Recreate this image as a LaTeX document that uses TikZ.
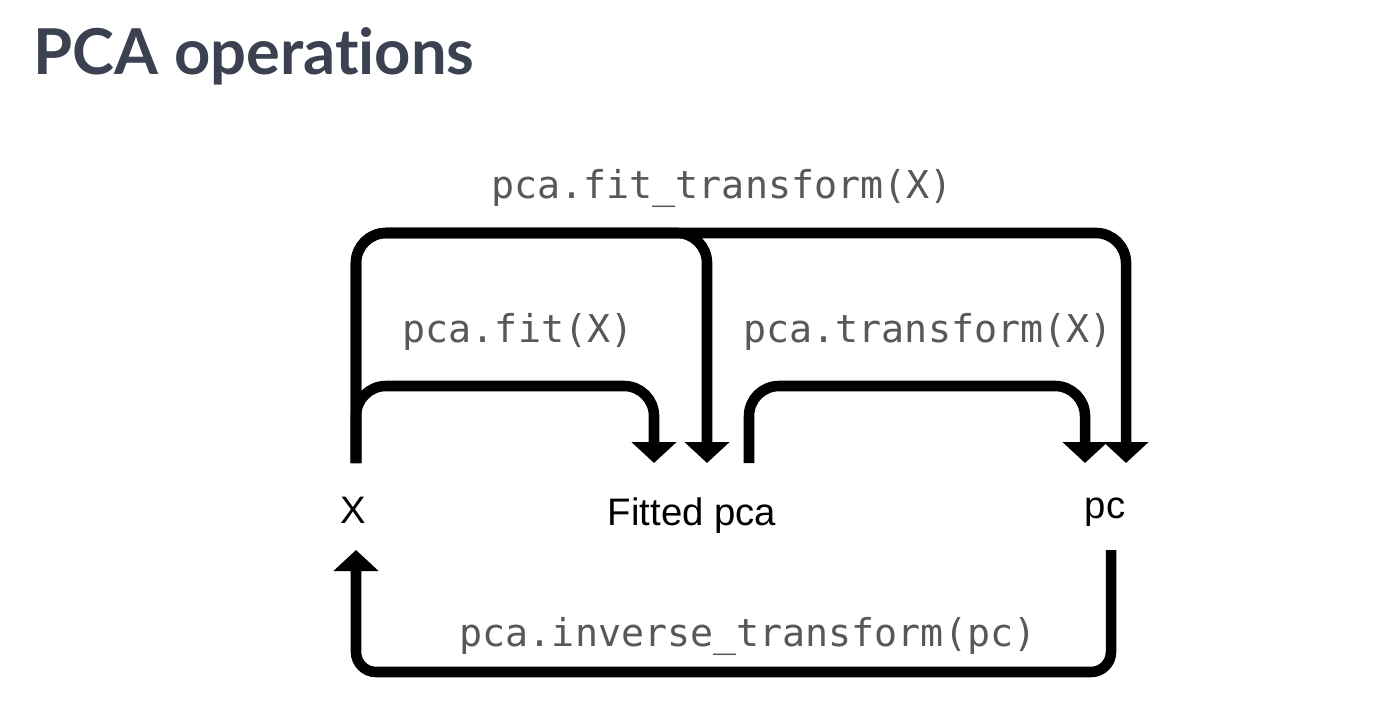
\documentclass[tikz,border=0pt]{standalone}
\usepackage{fontspec}
\usetikzlibrary{arrows.meta}
\setmainfont{Liberation Sans}
\newfontfamily\titlefont[Ligatures=NoCommon]{Lato}
\newfontfamily\codefont{DejaVu Sans Mono}
\definecolor{titlegray}{HTML}{3B4151}
\definecolor{codegray}{HTML}{585858}

\begin{document}
\begin{tikzpicture}[>={Triangle[length=2.1mm,width=4.4mm]},
    flow/.style={line width=3pt, rounded corners=3mm},
    code/.style={font=\codefont\fontsize{10.9pt}{13pt}\selectfont, text=codegray, anchor=base, inner sep=0pt},
    item/.style={font=\fontsize{10.9pt}{13pt}\selectfont, anchor=base, inner sep=0pt}]

    % Fundo e margens
    \fill[white] (0,0) rectangle (13.98,7.10);
    \useasboundingbox (0,0) rectangle (13.98,7.10);

    % Titulo
    \node[anchor=base west, inner sep=0pt, text=titlegray,
          font=\titlefont\bfseries\fontsize{18pt}{22pt}\selectfont] (title) at (0.33,6.35) {PCA operations};

    % Objetos
    \node[item] (X) at (3.53,1.87) {X};
    \node[item] (fitted) at (6.92,1.85) {Fitted pca};
    \node[item] (pc) at (11.05,1.92) {pc};

    % Niveis das linhas
    \def\yTop{4.77}
    \def\yIn{3.24}
    \def\yEnd{2.47}
    \def\yBot{0.38}
    \coordinate (top) at (0,\yTop);
    \coordinate (in) at (0,\yIn);
    \coordinate (bot) at (0,\yBot);

    % Pontas das setas
    \coordinate (xOut) at (3.56,\yEnd);
    \coordinate (fitIn) at (6.54,\yEnd);
    \coordinate (fitTop) at (7.07,\yEnd);
    \coordinate (fitOut) at (7.49,\yEnd);
    \coordinate (pcIn) at (10.85,\yEnd);
    \coordinate (pcTop) at (11.26,\yEnd);
    \coordinate (pcOut) at (11.11,1.60);
    \coordinate (xIn) at (3.56,1.60);

    % pca.fit_transform(X)
    \draw[flow,->] (xOut) -- (xOut |- top) -- (pcTop |- top) -- (pcTop);
    \draw[flow,->] (xOut) -- (xOut |- top) -- (fitTop |- top) -- (fitTop);

    % pca.fit(X)
    \draw[flow,->] (xOut) -- (xOut |- in) -- (fitIn |- in) -- (fitIn);

    % pca.transform(X)
    \draw[flow,->] (fitOut) -- (fitOut |- in) -- (pcIn |- in) -- (pcIn);

    % pca.inverse_transform(pc)
    \draw[flow,rounded corners=2mm,->] (pcOut) -- (pcOut |- bot) -- (xIn |- bot) -- (xIn);

    % Rotulos
    \node[code] (lfitT) at (7.22,5.11) {pca.fit\_transform(X)};
    \node[code] (lfit) at (5.18,3.67) {pca.fit(X)};
    \node[code] (ltrans) at (9.28,3.67) {pca.transform(X)};
    \node[code] (linv) at (7.48,0.64) {pca.inverse\_transform(pc)};

\end{tikzpicture}
\end{document}
